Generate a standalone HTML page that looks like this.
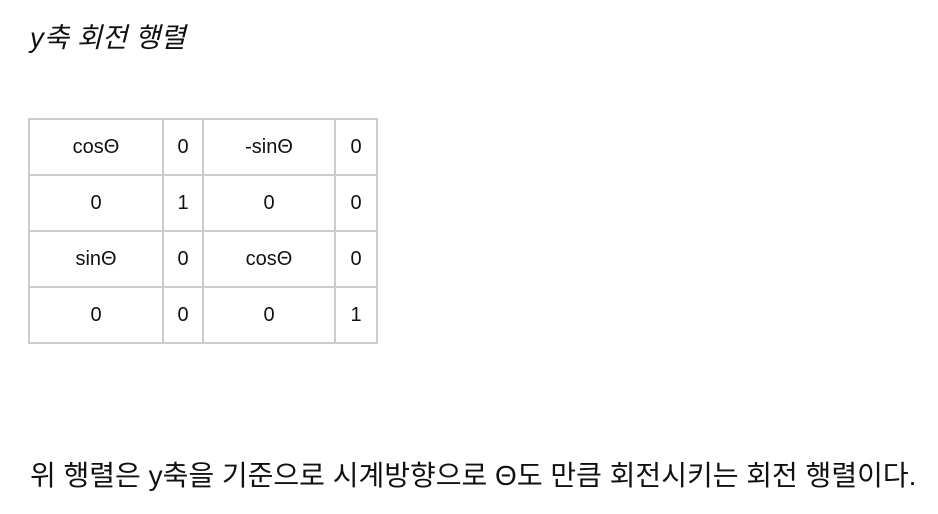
<!DOCTYPE html>
<html><head><meta charset="utf-8"><style>
body{margin:0;width:938px;height:514px;background:#fff;position:relative;overflow:hidden;font-family:"Liberation Sans","Noto Sans CJK KR",sans-serif;color:#111}
.t{position:absolute;white-space:nowrap}
#title{left:30px;top:15px;font-size:27.5px;font-style:italic}
#desc{left:30px;top:454px;font-size:28px}
.c{position:absolute;box-sizing:border-box;border:2px solid #ccc;display:flex;align-items:center;justify-content:center;font-size:20px;height:58px}
</style></head><body>
<div class="t" id="title">y축 회전 행렬</div>
<div id="matrix"></div>
<div class="t" id="desc">위 행렬은 y축을 기준으로 시계방향으로 Θ도 만큼 회전시키는 회전 행렬이다.</div>
<script>
const cells=[["cosΘ","0","-sinΘ","0"],["0","1","0","0"],["sinΘ","0","cosΘ","0"],["0","0","0","1"]];
const xs=[28,162,202,334,376];
const y0=118,rh=56;
const m=document.getElementById('matrix');
cells.forEach((row,r)=>row.forEach((v,c)=>{
const d=document.createElement('div');
d.className='c';


d.style.left=xs[c]+'px';d.style.top=(y0+r*rh)+'px';
d.style.width=(xs[c+1]-xs[c]+2)+'px';
d.textContent=v;m.appendChild(d);
}));
</script>
</body></html>
